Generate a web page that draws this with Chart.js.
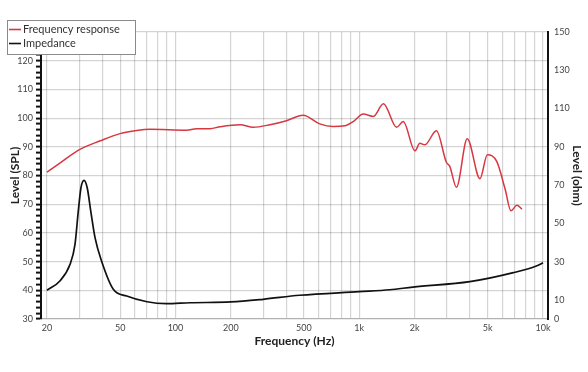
<!DOCTYPE html>
<html>
<head>
<meta charset="utf-8">
<script src="https://cdn.jsdelivr.net/npm/chart.js@4.4.1/dist/chart.umd.min.js"></script>
<style>
  body { margin: 0; background: #fff; }
</style>
</head>
<body>
<canvas id="myChart" width="588" height="372"></canvas>
<script>
// frequency response (dB SPL)
var frHz = [20, 23.5, 30, 39, 50, 61.5, 73, 115, 130, 154, 175, 225, 265, 327, 402, 495, 610, 720, 834, 928,
  1052, 1194, 1354, 1598, 1736, 2010, 2138, 2276, 2630, 2980, 3110, 3380, 3870, 4540, 4980, 5600, 6230, 6690, 7210, 7680];
var frDb = [81.2, 84.3, 89.0, 92.1, 94.6, 95.7, 96.1, 95.8, 96.3, 96.3, 97.0, 97.7, 96.8, 97.7, 99.1, 101.0, 98.0, 97.1, 97.3, 98.8,
  101.4, 100.6, 105.0, 96.8, 98.8, 88.6, 91.2, 90.7, 95.6, 84.6, 83.2, 75.9, 92.8, 78.9, 87.2, 84.9, 75.1, 67.7, 69.6, 68.3];

// impedance (ohm)
var impHz = [20, 23.5, 26.7, 28.4, 29.6, 30.6, 31.8, 33.1, 34.6, 36.5, 39.6, 45.9, 54.3, 70, 89, 120, 200, 300, 474,
  1000, 1466, 1960, 4000, 6900, 9200, 10000];
var impOhm = [15.0, 19.9, 28.6, 39.0, 56.4, 68.6, 72.5, 68.6, 56.4, 42.5, 30.3, 15.5, 12.0, 9.0, 8.0, 8.5, 8.9, 10.3, 12.4,
  14.3, 15.3, 16.7, 19.5, 24.2, 27.7, 29.4];

// axis ticks
var xTickHz = [20, 30, 40, 50, 60, 70, 80, 90, 100, 200, 300, 400, 500, 600, 700, 800, 900,
  1000, 2000, 3000, 4000, 5000, 6000, 7000, 8000, 9000, 10000];
var xLabels = {20: '20', 50: '50', 100: '100', 200: '200', 500: '500', 1000: '1k', 2000: '2k', 5000: '5k', 10000: '10k'};
var ohmTicks = [0, 10, 30, 50, 70, 90, 110, 130, 150];

function pairs(xs, ys) {
  return xs.map(function (x, i) { return {x: x, y: ys[i]}; });
}

var gridGray = 'rgba(0,0,0,0.17)';
var tickFont = {family: 'Lato', size: 9};
var titleFont = {family: 'Lato', size: 12, weight: 'bold'};

// legend box drawn in the top-left corner
var boxLegend = {
  id: 'boxLegend',
  afterDraw: function (chart) {
    var c = chart.ctx;
    c.save();
    c.fillStyle = '#fff';
    c.fillRect(7, 20, 128, 34);
    c.strokeStyle = '#8a8a8a';
    c.lineWidth = 1;
    c.strokeRect(7.5, 20.5, 128, 34);
    c.font = '11px Lato';
    c.textBaseline = 'middle';
    chart.data.datasets.forEach(function (ds, i) {
      var y = 29.5 + i * 14;
      c.strokeStyle = ds.borderColor;
      c.lineWidth = 1.6;
      c.beginPath();
      c.moveTo(9, y);
      c.lineTo(21, y);
      c.stroke();
      c.fillStyle = '#333';
      c.fillText(ds.label, 23, y);
    });
    c.restore();
  }
};

var ctx = document.getElementById('myChart');

var myChart = new Chart(ctx, {
  type: 'line',
  data: {
    datasets: [{
      label: 'Frequency response',
      data: pairs(frHz, frDb),
      borderColor: 'rgb(214,56,66)',
      borderWidth: 1.5,
      pointRadius: 0,
      cubicInterpolationMode: 'monotone',
      yAxisID: 'y'
    }, {
      label: 'Impedance',
      data: pairs(impHz, impOhm),
      borderColor: '#111',
      borderWidth: 1.7,
      pointRadius: 0,
      cubicInterpolationMode: 'monotone',
      yAxisID: 'y1'
    }]
  },
  options: {
    responsive: false,
    animation: false,
    layout: {padding: {top: 32, left: 0, right: 0, bottom: 0}},
    plugins: {
      legend: {display: false},
      tooltip: {enabled: false}
    },
    scales: {
      x: {
        type: 'logarithmic',
        min: 18.55,
        max: 10646,
        afterBuildTicks: function (s) {
          s.ticks = xTickHz.map(function (v) { return {value: v}; });
        },
        afterFit: function (s) { s.height = 53; },
        grid: {color: gridGray, lineWidth: 1.2, drawTicks: false},
        border: {color: gridGray, width: 1.2},
        ticks: {
          autoSkip: false,
          maxRotation: 0,
          padding: 4,
          color: '#444',
          font: tickFont,
          callback: function (v) { return xLabels[v] || ''; }
        },
        title: {display: true, text: 'Frequency (Hz)', color: '#222', font: titleFont, padding: {top: 0, bottom: 24}}
      },
      y: {
        position: 'left',
        min: 30,
        max: 130,
        afterFit: function (s) { s.width = 41; },
        grid: {
          color: function (c) { return c.tick.value % 10 === 0 ? gridGray : 'rgba(0,0,0,0)'; },
          lineWidth: 1.2,
          tickColor: '#111',
          tickWidth: 2,
          tickLength: 5
        },
        border: {color: '#111', width: 2},
        ticks: {
          stepSize: 2,
          autoSkip: false,
          padding: 3,
          color: '#444',
          font: tickFont,
          callback: function (v) { return (v % 10 === 0 && v !== 130) ? v : ''; }
        },
        title: {display: true, text: 'Level (SPL)', color: '#222', font: titleFont, padding: {top: 8, bottom: 0}}
      },
      y1: {
        position: 'right',
        min: 0,
        max: 150,
        afterBuildTicks: function (s) {
          s.ticks = ohmTicks.map(function (v) { return {value: v}; });
        },
        afterFit: function (s) { s.width = 40; },
        grid: {display: false, drawTicks: false},
        border: {color: '#111', width: 2},
        ticks: {padding: 6, color: '#444', font: tickFont},
        title: {display: true, text: 'Level (ohm)', color: '#222', font: titleFont, padding: {top: 4, bottom: 0}}
      }
    }
  },
  plugins: [boxLegend]
});
</script>
</body>
</html>
